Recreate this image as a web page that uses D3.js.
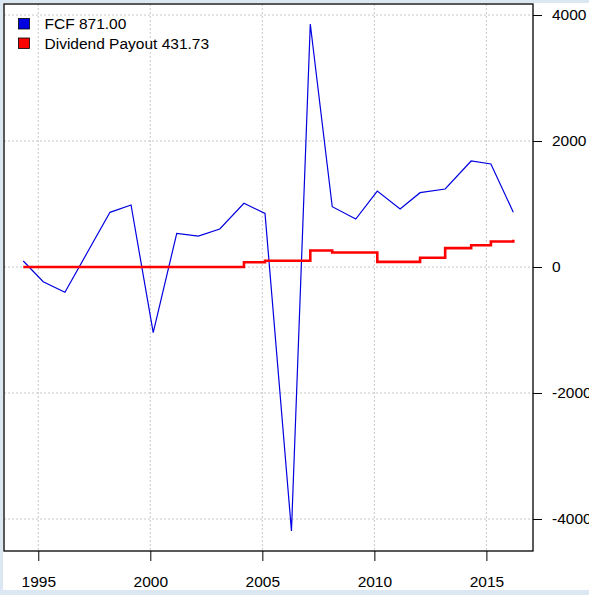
<!DOCTYPE html>
<html>
<head>
    <meta charset="UTF-8">
    <script src="https://d3js.org/d3.v7.min.js"></script>
    <style>
        body { margin: 0; background: #dce7f4; font-family: "Liberation Sans", Arial, sans-serif; }
        svg { display: block; }
        .grid line { stroke: #c8c8c8; stroke-width: 1px; stroke-dasharray: 2,2; }
        .axis text { font-size: 15.5px; fill: #000; font-family: "Liberation Sans", Arial, sans-serif; }
        .axis path, .axis line { stroke: #000; }
    </style>
</head>
<body>
    <svg id="chart"></svg>
    <script>
        // fiscal year dates (decimal years)
        const dates = [1994.33, 1995.22, 1996.19, 1997.2, 1998.2, 1999.14, 2000.13, 2001.18,
                       2002.14, 2003.1, 2004.18, 2005.12, 2006.3, 2007.14, 2008.12, 2009.17,
                       2010.13, 2011.15, 2012.04, 2013.16, 2014.32, 2015.2, 2016.2];
        const fcf = [95, -233, -402, 238, 868, 984, -1043, 535, 492, 603, 1011, 852,
                     -4190, 3857, 957, 762, 1206, 921, 1180, 1238, 1683, 1635, 871];
        const dividend = [0, 0, 0, 0, 0, 0, 0, 0, 0, 0, 75, 100, 100, 262, 230, 230,
                          82, 82, 148, 300, 346, 405, 431.73];
        const xTicks = [1995, 2000, 2005, 2010, 2015];
        const yTicks = [-4000, -2000, 0, 2000, 4000];
        const legendLabels = ["FCF 871.00", "Dividend Payout 431.73"];

        const W = 589, H = 595;
        const box = {left: 4, top: 4, right: 533, bottom: 551};

        const svg = d3.select("#chart").attr("width", W).attr("height", H);

        // white page area inside the light blue frame
        svg.append("rect")
            .attr("x", 3).attr("y", 3)
            .attr("width", W - 3).attr("height", 587)
            .attr("fill", "#fff");

        const x = d3.scaleLinear()
            .domain([1993.47, 2017.08])
            .range([box.left, box.right]);

        const y = d3.scaleLinear()
            .domain([-4508, 4175])
            .range([box.bottom, box.top]);

        // grid
        const grid = svg.append("g").attr("class", "grid");
        grid.selectAll(".gx").data(xTicks).enter().append("line")
            .attr("x1", d => x(d)).attr("x2", d => x(d))
            .attr("y1", box.top).attr("y2", box.bottom);
        grid.selectAll(".gy").data(yTicks).enter().append("line")
            .attr("x1", box.left).attr("x2", box.right)
            .attr("y1", d => y(d)).attr("y2", d => y(d));

        const rows = dates.map((d, i) => ({date: d, fcf: fcf[i], div: dividend[i]}));

        svg.append("path")
            .datum(rows)
            .attr("fill", "none")
            .attr("stroke", "#0000e0")
            .attr("stroke-width", 1.2)
            .attr("d", d3.line().x(d => x(d.date)).y(d => y(d.fcf)));

        svg.append("path")
            .datum(rows)
            .attr("fill", "none")
            .attr("stroke", "#ff0000")
            .attr("stroke-width", 2.6)
            .attr("d", d3.line().curve(d3.curveStepAfter).x(d => x(d.date)).y(d => y(d.div)));

        // plot box
        svg.append("rect")
            .attr("x", box.left).attr("y", box.top)
            .attr("width", box.right - box.left).attr("height", box.bottom - box.top)
            .attr("fill", "none").attr("stroke", "#000").attr("stroke-width", 1.3);

        // axes
        const xAxis = svg.append("g")
            .attr("class", "axis")
            .attr("transform", `translate(0,${box.bottom})`)
            .call(d3.axisBottom(x).tickValues(xTicks).tickFormat(d3.format("d")).tickSize(10).tickPadding(15));
        xAxis.select(".domain").remove();

        const yAxis = svg.append("g")
            .attr("class", "axis")
            .attr("transform", `translate(${box.right},0)`)
            .call(d3.axisRight(y).tickValues(yTicks).tickFormat(d3.format("d")).tickSize(9).tickPadding(10));
        yAxis.select(".domain").remove();
        yAxis.selectAll("text").text(d => d < 0 ? "-" + Math.abs(d) : d);

        // legend
        const colors = ["#0000e0", "#ff0000"];
        const legend = svg.append("g");
        legend.selectAll("rect").data(legendLabels).enter().append("rect")
            .attr("x", 18.5).attr("y", (d, i) => 18.5 + i * 19.5)
            .attr("width", 11).attr("height", 10.5)
            .attr("fill", (d, i) => colors[i])
            .attr("stroke", "#000").attr("stroke-width", 0.8);
        legend.selectAll("text").data(legendLabels).enter().append("text")
            .attr("x", 44.5).attr("y", (d, i) => 24 + i * 19.5)
            .attr("dy", "0.35em")
            .attr("font-size", "15.5px")
            .text(d => d);
    </script>
</body>
</html>
